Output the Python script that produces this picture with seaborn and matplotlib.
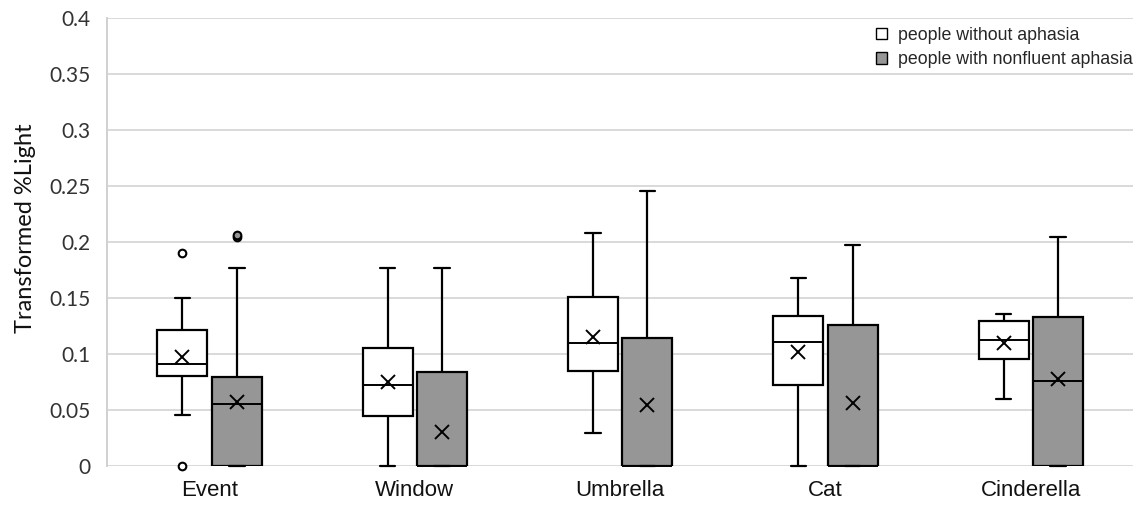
import numpy as np
import pandas as pd
import matplotlib
matplotlib.use("Agg")
import matplotlib.pyplot as plt
from matplotlib.patches import Patch
import seaborn as sns

# items on the x axis and the two groups
items = ["Event", "Window", "Umbrella", "Cat", "Cinderella"]
groups = ["people without aphasia", "people with nonfluent aphasia"]

# five-number summaries: whisker low, Q1, median, Q3, whisker high
without_stats = {
    "Event":      [0.0455, 0.080, 0.091, 0.121, 0.150],
    "Window":     [0.0,    0.0446, 0.0723, 0.105, 0.1765],
    "Umbrella":   [0.0298, 0.0848, 0.110, 0.1506, 0.2083],
    "Cat":        [0.0,    0.0723, 0.111, 0.1342, 0.1676],
    "Cinderella": [0.0598, 0.0952, 0.1125, 0.1295, 0.1357],
}
with_stats = {
    "Event":      [0.0, 0.0, 0.055, 0.0798, 0.1765],
    "Window":     [0.0, 0.0, 0.0,   0.0842, 0.1765],
    "Umbrella":   [0.0, 0.0, 0.0,   0.1146, 0.245],
    "Cat":        [0.0, 0.0, 0.0,   0.1256, 0.197],
    "Cinderella": [0.0, 0.0, 0.0759, 0.1333, 0.2048],
}

# means (the x markers)
without_means = [0.0976, 0.0753, 0.1155, 0.102, 0.110]
with_means = [0.0574, 0.0306, 0.0545, 0.056, 0.0774]

# outliers (item, group index, value)
outliers = [
    ("Event", 0, 0.190),
    ("Event", 0, 0.0),
    ("Event", 1, 0.204),
    ("Event", 1, 0.206),
]

yticks = [0, 0.05, 0.1, 0.15, 0.2, 0.25, 0.3, 0.35, 0.4]
ytick_labels = ["0", "0.05", "0.1", "0.15", "0.2", "0.25", "0.3", "0.35", "0.4"]

fills = {groups[0]: "white", groups[1]: "#969696"}

# long tables for seaborn
box_rows = []
for stats, g in ((without_stats, groups[0]), (with_stats, groups[1])):
    for it in items:
        for v in stats[it]:
            box_rows.append({"item": it, "group": g, "value": v})
box_df = pd.DataFrame(box_rows)

mean_df = pd.DataFrame(
    [{"item": it, "group": groups[0], "value": m} for it, m in zip(items, without_means)]
    + [{"item": it, "group": groups[1], "value": m} for it, m in zip(items, with_means)]
)

out_df = pd.DataFrame(outliers, columns=["item", "gi", "value"])
out_df["group"] = [groups[i] for i in out_df["gi"]]
out_df["rank"] = out_df.groupby(["item", "group"]).cumcount()

sns.set_style("white")
plt.rcParams["font.family"] = ["Liberation Sans", "DejaVu Sans"]

fig = plt.figure(figsize=(11.38, 5.23), dpi=100)
ax = fig.add_axes([0.094, 0.109, 0.902, 0.857])

box_width = 0.53
box_gap = 0.08

sns.boxplot(
    data=box_df, x="item", y="value", hue="group",
    order=items, hue_order=groups, palette=fills,
    width=box_width, gap=box_gap, whis=np.inf,
    linecolor="black", linewidth=1.6, legend=False, ax=ax,
    medianprops={"linewidth": 1.4},
    capwidths=0.075,
)

sns.pointplot(
    data=mean_df, x="item", y="value", hue="group",
    order=items, hue_order=groups, palette=["black", "black"],
    dodge=box_width / 2, markers="x", linestyle="none",
    errorbar=None, markersize=10.5, markeredgewidth=1.4,
    legend=False, ax=ax,
)

for r, sub in out_df.groupby("rank"):
    for gname in groups:
        part = sub[sub["group"] == gname]
        if part.empty:
            continue
        sns.pointplot(
            data=part, x="item", y="value", hue="group",
            order=items, hue_order=groups, palette=["black", "black"],
            dodge=box_width / 2, markers="o", linestyle="none",
            errorbar=None, markersize=5.5, markeredgewidth=1.5,
            markerfacecolor=fills[gname], markeredgecolor="black",
            legend=False, ax=ax,
        )

for line in ax.lines:
    line.set_clip_on(False)

ax.set_xlim(-0.5, len(items) - 0.5)
ax.set_ylim(0, 0.4)
ax.set_yticks(yticks)
ax.set_yticklabels(ytick_labels, family=["Lato", "DejaVu Sans"])
ax.yaxis.grid(True, color="#d9d9d9", linewidth=1.4)
ax.set_axisbelow(True)
for s in ["top", "right", "bottom"]:
    ax.spines[s].set_visible(False)
ax.spines["left"].set_color("#d0d0d0")
ax.spines["left"].set_linewidth(1.4)
ax.tick_params(axis="both", length=0)
ax.tick_params(axis="y", labelsize=15, pad=12, labelcolor="#333333")
ax.tick_params(axis="x", labelsize=16, pad=10, labelcolor="#111111")
ax.set_xlabel("")
ax.set_ylabel("Transformed %Light", fontsize=17,
              family=["Lato", "DejaVu Sans"], color="#111111")
ax.yaxis.set_label_coords(-0.069, 0.53)

handles = [Patch(facecolor=fills[g], edgecolor="black", linewidth=1.0) for g in groups]
ax.legend(handles, groups, loc="upper right", bbox_to_anchor=(0.999, 0.98),
          frameon=False, fontsize=12.8, handlelength=0.62, handleheight=0.62,
          handletextpad=0.62, labelspacing=0.42, borderaxespad=0.0,
          borderpad=0.0)

fig.savefig("out.png", dpi=100)
